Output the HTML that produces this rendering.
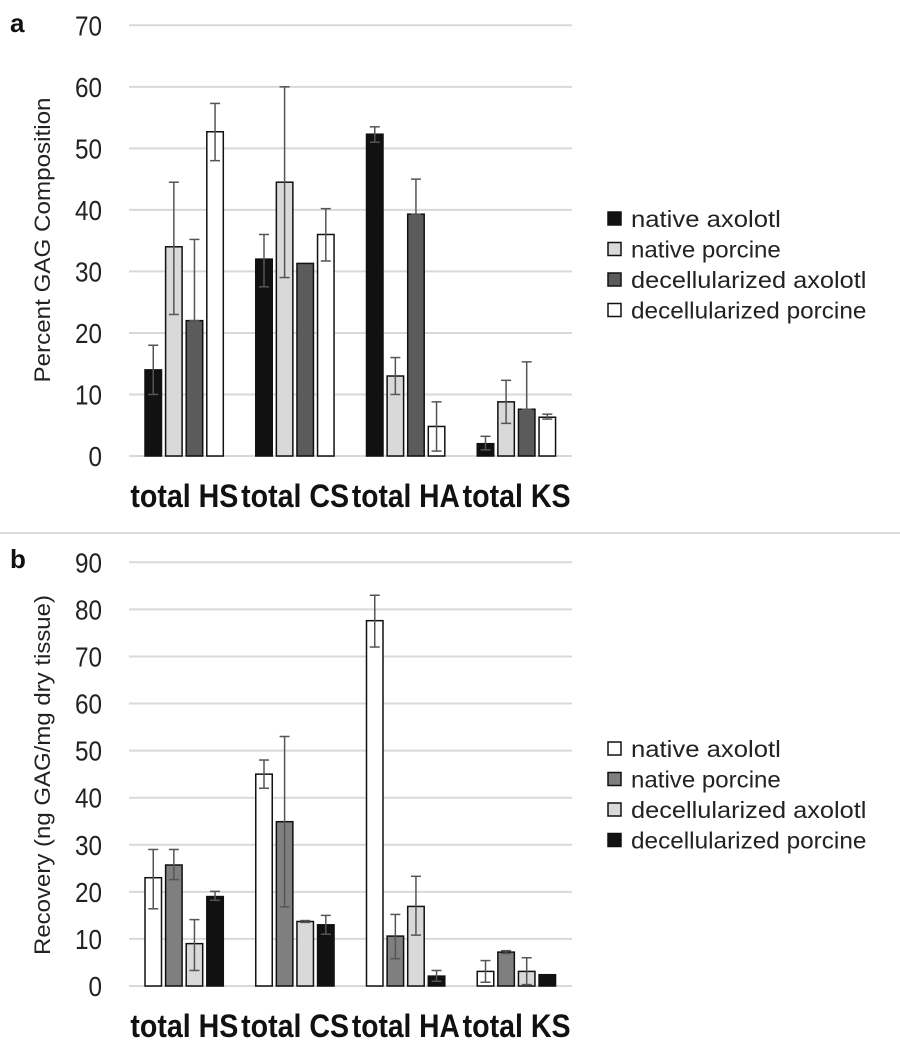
<!DOCTYPE html>
<html><head><meta charset="utf-8"><style>
html,body{margin:0;padding:0;background:#fff;}
svg{display:block;font-family:"Liberation Sans",Arial,sans-serif;}
</style></head><body>
<svg id="fig" width="900" height="1050" viewBox="0 0 900 1050"></svg>
<script>
const categories = ["total HS","total CS","total HA","total KS"];
const seriesA = ["native axolotl","native porcine","decellularized axolotl","decellularized porcine"];
const valsA = [[14,32,52.3,2],[34,44.5,13,8.8],[22,31.3,39.3,7.6],[52.7,36,4.8,6.3]];
const errLoA = [[10,27.5,51,1],[23,29,10,5.3],[22,31.3,39.3,7.6],[48,31.7,0.8,6]];
const errHiA = [[18,36,53.5,3.2],[44.5,60,16,12.3],[35.2,31.3,45,15.3],[57.3,40.2,8.8,6.8]];
const ticksA = [0,10,20,30,40,50,60,70];
const seriesB = ["native axolotl","native porcine","decellularized axolotl","decellularized porcine"];
const valsB = [[23,45,77.6,3.1],[25.7,34.9,10.6,7.2],[9,13.7,16.9,3.1],[19,13,2.1,2.4]];
const errLoB = [[16.4,42,72,0.8],[22.6,16.8,5.8,6.9],[3.3,13.5,10.8,0.3],[18.2,11,1,2.3]];
const errHiB = [[29,48,83,5.4],[29,53,15.2,7.5],[14.1,13.9,23.3,6],[20.1,15,3.3,2.5]];
const ticksB = [0,10,20,30,40,50,60,70,80,90];

const NS="http://www.w3.org/2000/svg";
const svg=document.getElementById('fig');
function mk(tag,attrs,parent){const e=document.createElementNS(NS,tag);for(const k in attrs)e.setAttribute(k,attrs[k]);(parent||svg).appendChild(e);return e;}

function panel(opt){
  const g=mk('g',{});
  
  
  const x0=129,x1=572,y0=opt.yBottom,y1=opt.yTop,max=opt.max;
  const yS=v=>y0-(v/max)*(y0-y1);
  const gw=(x1-x0)/categories.length, bw=16.5, step=20.6, off=16;
  const xS=(c,s)=>x0+c*gw+off+s*step;
  opt.ticks.forEach(t=>{
    const l=mk('line',{x1:x0,x2:x1,y1:yS(t),y2:yS(t),stroke:'#d9d9d9','stroke-width':2},g);
    
    
    const tx=mk('text',{x:102,y:yS(t)+10,'text-anchor':'end','font-size':28,fill:'#222',textLength:String(t).length*13.5,lengthAdjust:'spacingAndGlyphs'},g);
    tx.textContent=t;
    
    
  });
  opt.vals.forEach((sv,s)=>{
    sv.forEach((v,c)=>{
      const x=xS(c,s);
      const r=mk('rect',{x:x,y:yS(v),width:bw,height:yS(0)-yS(v),fill:opt.colors[s],stroke:'#111','stroke-width':1.5},g);
      
      
      const lo=opt.lo[s][c],hi=opt.hi[s][c];
      if(hi-lo>0.3){
        const cx=x+bw/2;
        const eg=mk('g',{stroke:'#555','stroke-width':1.5},g);
        
        
        mk('line',{x1:cx,x2:cx,y1:yS(lo),y2:yS(hi)},eg);
        mk('line',{x1:cx-5,x2:cx+5,y1:yS(lo),y2:yS(lo)},eg);
        mk('line',{x1:cx-5,x2:cx+5,y1:yS(hi),y2:yS(hi)},eg);
      }
    });
  });
  categories.forEach((c,i)=>{
    const t=mk('text',{x:x0+gw*(i+0.5),y:opt.catY,'text-anchor':'middle','font-size':32,'font-weight':'bold',fill:'#111',textLength:108,lengthAdjust:'spacingAndGlyphs'},g);
    t.textContent=c;
    
    
  });
  const yl=mk('text',{x:0,y:0,transform:`translate(50,${opt.ylY}) rotate(-90)`,'text-anchor':'middle','font-size':22,fill:'#222',textLength:opt.ylLen,lengthAdjust:'spacingAndGlyphs'},g);
  yl.textContent=opt.ylabel;
  
  
  const pl=mk('text',{x:10,y:opt.letterY,'font-size':26,'font-weight':'bold',fill:'#111'},g);
  pl.textContent=opt.letter;
  
  
  opt.series.forEach((s,i)=>{
    const ly=opt.legY+i*30.5;
    const lg=mk('g',{},g);
    
    
    mk('rect',{x:608,y:ly-7,width:13,height:13,fill:opt.colors[i],stroke:'#111','stroke-width':1.5},lg);
    const t=mk('text',{x:631,y:ly+8,'font-size':23,fill:'#222',textLength:s.length*10.7,lengthAdjust:'spacingAndGlyphs'},lg);
    t.textContent=s;
  });
}

panel({name:'panel-a-chart',yBottom:456,yTop:25.3,max:70,ticks:ticksA,vals:valsA,lo:errLoA,hi:errHiA,
  colors:['#111','#d9d9d9','#5b5b5b','#fff'],series:seriesA,catY:507,ylabel:'Percent GAG Composition',ylY:240,ylLen:285,
  letter:'a',letterY:32,legY:219});
const div=mk('line',{x1:0,x2:900,y1:533,y2:533,stroke:'#ddd','stroke-width':2});


panel({name:'panel-b-chart',yBottom:986,yTop:562.3,max:90,ticks:ticksB,vals:valsB,lo:errLoB,hi:errHiB,
  colors:['#fff','#7f7f7f','#d9d9d9','#111'],series:seriesB,catY:1037,ylabel:'Recovery (ng GAG/mg dry tissue)',ylY:775,ylLen:360,
  letter:'b',letterY:568,legY:749});
</script>
</body></html>
